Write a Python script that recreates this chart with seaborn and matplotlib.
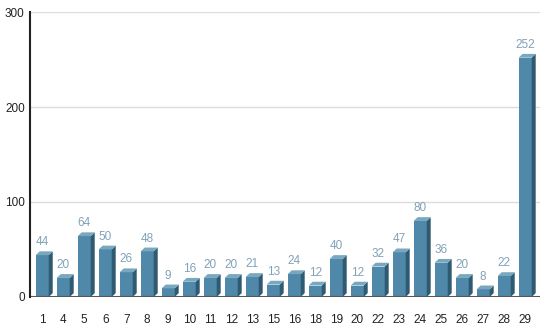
import matplotlib
matplotlib.use("Agg")
import matplotlib.pyplot as plt
import seaborn as sns
import pandas as pd
from matplotlib.patches import Polygon

categories = ["1", "4", "5", "6", "7", "8", "9", "10", "11", "12", "13", "15",
              "16", "18", "19", "20", "22", "23", "24", "25", "26", "27", "28", "29"]
values = [44, 20, 64, 50, 26, 48, 9, 16, 20, 20, 21, 13,
          24, 12, 40, 12, 32, 47, 80, 36, 20, 8, 22, 252]
y_ticks = [0, 100, 200, 300]

FRONT = "#4f88a8"
SIDE = "#2e5a72"
TOP = "#78a7c0"
LABEL = "#80a2b8"

df = pd.DataFrame({"cat": categories, "val": values})

sns.set_theme(style="white")
plt.rcParams["font.family"] = ["Liberation Sans", "DejaVu Sans"]

fig = plt.figure(figsize=(5.5, 3.27), dpi=100)
ax = fig.add_axes([0.055, 0.092, 0.927, 0.871])

sns.barplot(data=df, x="cat", y="val", color=FRONT, saturation=1, width=0.62,
            edgecolor="none", ax=ax, zorder=3)

ax.set_ylim(0, 300)
ax.set_xlim(-0.57, 23.71)
ax.set_yticks(y_ticks)
for t in y_ticks[1:]:
    ax.axhline(t, color="#dcdcdc", lw=1, zorder=0)

# fake 3D depth: side and top faces, offsets in data units
dx, dy = 0.19, 4.0
for p, v in zip(ax.patches, values):
    x0, w, h = p.get_x(), p.get_width(), p.get_height()
    x1 = x0 + w
    side = Polygon([(x1, 0), (x1 + dx, dy), (x1 + dx, h + dy), (x1, h)],
                   closed=True, facecolor=SIDE, edgecolor="none", zorder=3)
    top = Polygon([(x0, h), (x0 + dx, h + dy), (x1 + dx, h + dy), (x1, h)],
                  closed=True, facecolor=TOP, edgecolor="none", zorder=3)
    ax.add_patch(side)
    ax.add_patch(top)
    ax.text(x0 + w / 2, h + 13.5, str(v), ha="center", va="center",
            fontsize=8.5, color=LABEL, zorder=4)

ax.axhline(0, color="#555555", lw=1.5, zorder=4)
for s in ["top", "right", "bottom"]:
    ax.spines[s].set_visible(False)
ax.spines["left"].set_color("#222222")
ax.spines["left"].set_linewidth(1.5)
ax.spines["left"].set_zorder(5)

ax.set_xlabel("")
ax.set_ylabel("")
ax.tick_params(axis="both", length=0, labelsize=8.5, colors="#222222")
ax.tick_params(axis="x", pad=12)
ax.tick_params(axis="y", pad=4)

fig.savefig("out.png", dpi=100)
